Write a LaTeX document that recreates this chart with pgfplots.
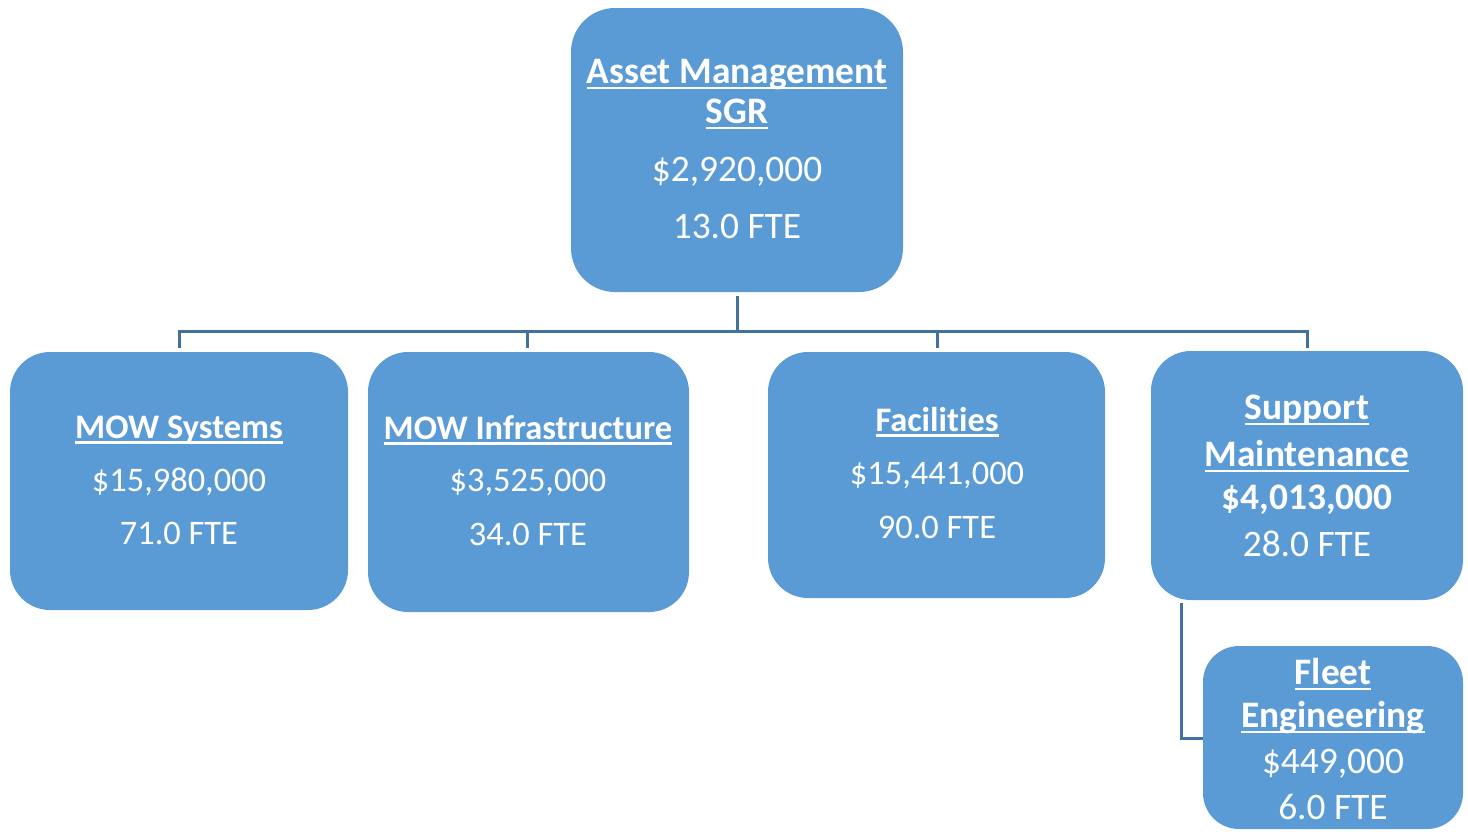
\documentclass[border=0pt]{standalone}
\usepackage{pgfplots}
\pgfplotsset{compat=1.18}
\usepackage{fontspec}
\setmainfont{Carlito}[Ligatures={NoCommon}]
\definecolor{boxblue}{RGB}{91,155,213}
\definecolor{linkblue}{RGB}{65,113,156}
% underline at a fixed depth, as in the source (crosses descenders)
\newcommand\ul[1]{\setbox0\hbox{#1}\rlap{\rule[-0.17em]{\wd0}{0.075em}}\box0}
\tikzset{lbl/.style={text=white, anchor=base, font=\fontsize{17.2pt}{20pt}\selectfont},
  lblb/.style={lbl, font=\fontsize{18.7pt}{22pt}\selectfont}}
\begin{document}
\begin{tikzpicture}
\begin{axis}[
    scale only axis,
    width=734pt, height=415.5pt,
    xmin=0, xmax=1468, ymin=0, ymax=831,
    y dir=reverse,
    hide axis,
    clip=false,
]
\addplot[draw=none] coordinates {(0,0) (1468,831)};

% connectors
\addplot[linkblue, line width=1.5pt] coordinates {(737,296) (737,331)};
\addplot[linkblue, line width=1.5pt] coordinates {(179,348) (179,331) (1307,331) (1307,348)};
\addplot[linkblue, line width=1.5pt] coordinates {(527,331) (527,348)};
\addplot[linkblue, line width=1.5pt] coordinates {(937,331) (937,348)};
\addplot[linkblue, line width=1.5pt] coordinates {(1181,603) (1181,738) (1205,738)};

% boxes
\addplot[draw=none, fill=boxblue, rounded corners=22pt] coordinates {(737,8) (903,8) (903,292) (571,292) (571,8)} -- cycle;
\addplot[draw=none, fill=boxblue, rounded corners=20pt] coordinates {(179,352) (348,352) (348,610) (10,610) (10,352)} -- cycle;
\addplot[draw=none, fill=boxblue, rounded corners=20pt] coordinates {(528,352) (689,352) (689,612) (368,612) (368,352)} -- cycle;
\addplot[draw=none, fill=boxblue, rounded corners=20pt] coordinates {(937,352) (1105,352) (1105,598) (768,598) (768,352)} -- cycle;
\addplot[draw=none, fill=boxblue, rounded corners=20pt] coordinates {(1307,351) (1463,351) (1463,600) (1151,600) (1151,351)} -- cycle;
\addplot[draw=none, fill=boxblue, rounded corners=18pt] coordinates {(1333,646) (1463,646) (1463,829) (1203,829) (1203,646)} -- cycle;

% texts
\node[lblb] at (axis cs:737,83) {\bfseries\ul{Asset Management}};
\node[lblb] at (axis cs:737,123) {\bfseries\ul{SGR}};
\node[lblb] at (axis cs:737,181) {\$2,920,000};
\node[lblb] at (axis cs:737,238) {13.0 FTE};

\node[lbl] at (axis cs:179,438) {\bfseries\ul{MOW Systems}};
\node[lbl] at (axis cs:179,491) {\$15,980,000};
\node[lbl] at (axis cs:179,544) {71.0 FTE};

\node[lbl] at (axis cs:528,439) {\bfseries\ul{MOW Infrastructure}};
\node[lbl] at (axis cs:528,491) {\$3,525,000};
\node[lbl] at (axis cs:528,545) {34.0 FTE};

\node[lbl] at (axis cs:937,431) {\bfseries\ul{Facilities}};
\node[lbl] at (axis cs:937,484) {\$15,441,000};
\node[lbl] at (axis cs:937,538) {90.0 FTE};

\node[lblb] at (axis cs:1307,419) {\bfseries\ul{Support}};
\node[lblb] at (axis cs:1307,466) {\bfseries\ul{Maintenance}};
\node[lblb] at (axis cs:1307,509) {\bfseries\$4,013,000};
\node[lblb] at (axis cs:1307,556) {28.0 FTE};

\node[lblb] at (axis cs:1333,684) {\bfseries\ul{Fleet}};
\node[lblb] at (axis cs:1333,727) {\bfseries\ul{Engineering}};
\node[lblb] at (axis cs:1333,773) {\$449,000};
\node[lblb] at (axis cs:1333,819) {6.0 FTE};
\end{axis}
\end{tikzpicture}
\end{document}
